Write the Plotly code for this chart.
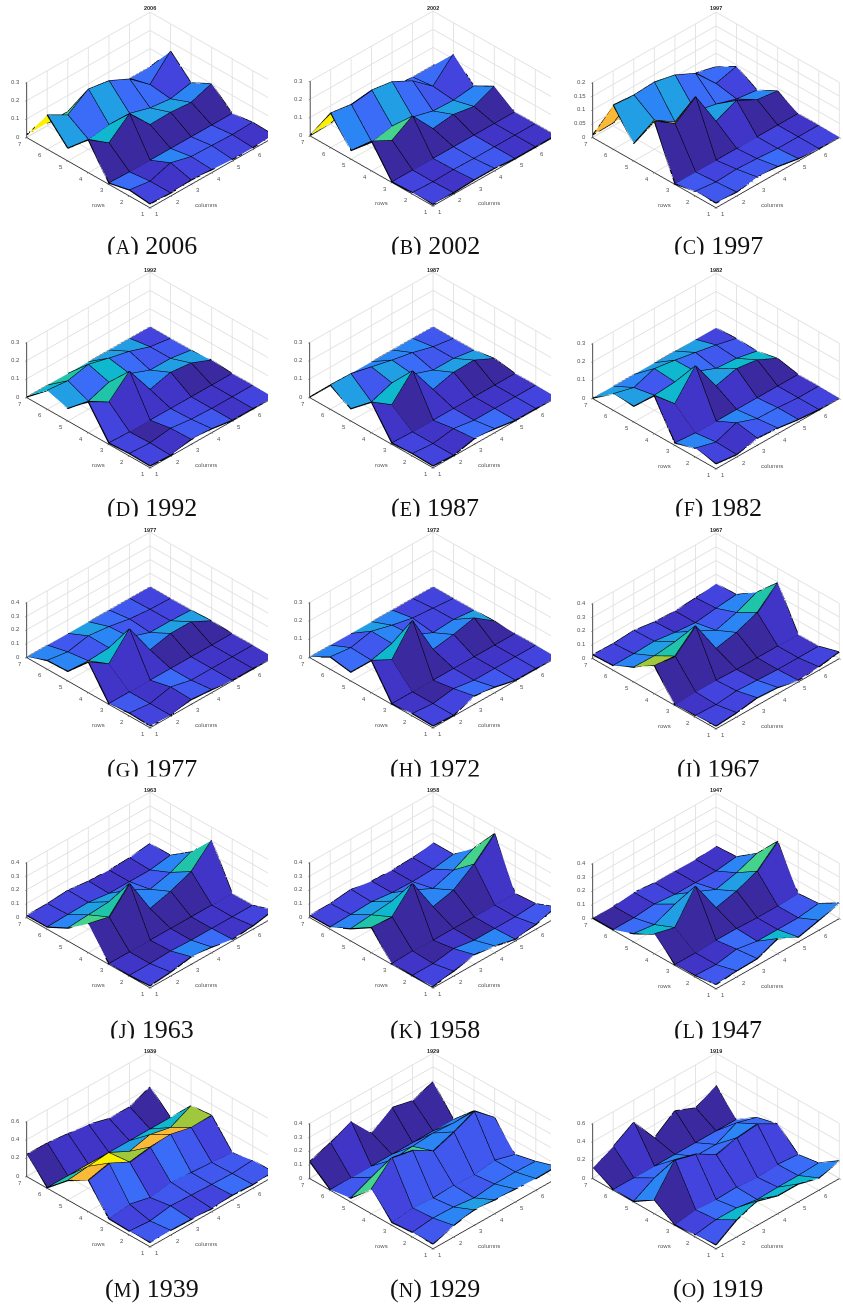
import plotly.graph_objects as go
import math

YEARS = [2006, 2002, 1997, 1992, 1987, 1982, 1977, 1972, 1967, 1963, 1958, 1947, 1939, 1929, 1919]
LETTERS = list("ABCDEFGHIJKLMNO")
GRID = [1, 2, 3, 4, 5, 6, 7]
GRID_LABELS = [1, 2, 3, 4, 5, 6]
ZMAX = [0.3, 0.3, 0.2, 0.3, 0.3, 0.3, 0.4, 0.3, 0.4, 0.4, 0.4, 0.4, 0.6, 0.4, 0.6]
ZT_01_3 = [0, 0.1, 0.2, 0.3]
ZT_01_4 = [0, 0.1, 0.2, 0.3, 0.4]
ZT_005 = [0, 0.05, 0.1, 0.15, 0.2]
ZT_02 = [0, 0.2, 0.4, 0.6]
ZTICKS = [ZT_01_3, ZT_01_3, ZT_005, ZT_01_3, ZT_01_3, ZT_01_3, ZT_01_4, ZT_01_3, ZT_01_4, ZT_01_4, ZT_01_4, ZT_01_4, ZT_02, ZT_01_4, ZT_02]
PALETTE = ["#3b2a9f", "#4135c8", "#4343dd", "#4058ee", "#3a6cf8", "#2c85f5", "#229fe4",
           "#0fb7cf", "#20c4a8", "#45d28c", "#a0c83c", "#fbb938", "#faf000"]

Z0 = [0, 0, 0, 0, 0, 0, 0]
Z_2006 = [[.018,.013,.02,.013,.005,.005,.012],[.03,.013,.05,.02,.016,.012,.016],[.004,0,0,0,0,0,0],
          [.176,.095,.19,.067,.07,.06,.10],[.067,.05,.067,.064,.03,.016,.04],[.185,.12,.198,.18,.125,.03,.15],[.013,.013,.01,.01,.01,0,0]]
Z_2002 = [[.005,.004,.01,.01,0,0,0],[.005,0,.003,0,0,0,0],Z0,
          [.16,.10,.17,.036,.05,.03,.078],[.045,.027,.05,.036,.005,0,.015],[.187,.17,.185,.167,.107,.013,.127],[0,.005,.005,.005,.005,0,0]]
Z_1997 = [[.015,.012,.024,.02,.006,0,0],[.015,.006,.01,.006,0,0,0],Z0,
          [.186,.134,.19,.057,.09,.05,.04],[.062,.104,.054,.05,.034,.01,0],[.16,.153,.158,.141,.104,.024,.044],[.008,.01,.01,.01,.01,.02,0]]
Z_1992 = [[.007,0,.023,.018,0,0,0],[.01,.004,.02,.005,0,0,0],[.004,0,0,0,0,0,0],
          [.165,.10,.204,.04,.07,.057,.01],[.066,.04,.08,.0625,.018,.018,0],[.10,.088,.114,.084,.057,.018,0],Z0]
Z_1987 = [[.007,0,.027,.018,0,0,0],[.01,0,.018,0,0,0,0],[.004,0,0,0,0,0,0],
          [.164,.085,.207,.04,.07,.073,.018],[.064,.036,.076,.06,.018,.018,0],[.13,.127,.10,.073,.05,.018,0],Z0]
Z_1982 = [[.024,.01,.036,.027,.01,0,0],[.045,.014,.056,.014,.01,0,0],[.01,0,0,0,0,0,0],
          [.204,.096,.24,.065,.096,.08,.024],[.083,.078,.087,.08,.033,.024,0],[.087,.056,.096,.078,.056,.033,.005],Z0]
Z_1977 = [[.01,0,.03,.017,0,0,0],[.017,0,.036,0,0,0,0],Z0,
          [.22,.12,.29,.05,.085,.085,.007],[.066,.056,.066,.06,.007,.007,0],[.06,.036,.068,.05,.02,.005,0],Z0]
Z_1972 = [[.007,0,.042,.027,0,0,0],[.01,0,.018,0,0,0,0],Z0,
          [.173,.113,.264,.04,.058,.085,.004],[.045,.045,.073,.055,.004,.012,0],[.064,.05,.076,.045,.02,.01,0],Z0]
Z_1967 = [[.015,.027,.05,.04,.007,.02,.044],[.007,0,.015,.007,0,0,0],[0,.007,.007,0,0,0,0],
          [.2,.184,.32,.068,.1,.16,.294],[.104,.1,.117,.11,.03,.075,.14],[.03,.03,.036,.015,0,.02,.036],[.024,.02,.03,.007,0,.012,.03]]
Z_1963 = [[.01,.024,.05,.036,.007,.02,.05],[0,0,.007,0,0,0,0],Z0,
          [.207,.17,.33,.06,.1,.16,.305],[.09,.1,.11,.11,.03,.068,.134],[.012,.017,.02,0,0,0,.024],[.012,.012,.024,.005,0,.005,.024]]
Z_1958 = [[.005,.03,.066,.044,.007,.03,.073],[0,0,.024,0,0,0,.012],[0,.007,0,0,0,0,0],
          [.18,.17,.33,.073,.11,.215,.354],[.085,.1,.115,.11,.036,.085,.163],[.012,.017,.024,.005,0,.007,.03],[.012,.012,.03,.005,0,.005,.03]]
Z_1947 = [[.027,.04,.044,.105,.03,.068,.11],[.007,0,.027,0,0,0,.02],[0,0,.007,.007,0,0,.007],
          [.14,.1,.317,.073,.11,.17,.305],[.056,.036,.1,.105,.036,.073,.13],[0,0,.015,0,0,0,.02],[0,0,.015,0,0,0,.012]]
Z_1939 = [[.04,.044,.036,.025,.044,.033,.044],[.036,.018,.055,.044,.033,.025,.044],[.044,.073,.018,.06,.036,.018,0],
          [.34,.396,.28,.316,.327,.273,.28],[.207,.233,.255,.14,.196,.145,.258],Z0,[.236,.233,.207,.18,.116,.116,.207]]
Z_1929 = [[.03,.08,.108,.096,.09,.08,.084],[.03,.048,.043,.024,.04,.043,.036],[.017,.036,.024,.03,.024,.043,0],
          [.175,.32,.288,.197,.25,.317,.185],[.024,.09,.13,.144,.156,.144,.15],Z0,[.12,.173,.245,.072,.173,.137,.19]]
Z_1919 = [[.036,.18,.26,.19,.19,.127,.19],[.018,.055,.055,.018,.025,.025,.036],[0,.036,.018,.025,.007,.018,0],
          [.145,.455,.39,.255,.31,.335,.207],[0,.127,.2,.11,.11,.218,.15],Z0,[.11,.218,.356,.055,.225,.127,.247]]

C_2006 = [[2,1,2,3,2,1],[4,1,5,3,3,2],[0,0,0,0,0,0],[12,7,3,6,6,5],[6,4,6,4,4,2],[12,9,3,3,3,4]]
C_2002 = [[2,1,3,3,1,1],[2,1,3,3,1,1],[0,0,0,0,0,0],[9,9,3,5,6,5],[5,4,6,4,3,2],[12,4,4,4,4,4]]
C_1997 = [[3,3,3,4,2,2],[3,2,2,2,2,1],[0,0,0,1,0,0],[12,11,4,6,0,5],[6,5,6,4,4,2],[11,11,4,4,4,4]]
C_1992 = [[2,1,3,3,1,2],[2,0,3,2,1,1],[2,1,1,1,0,0],[7,8,3,5,6,6],[6,4,7,4,3,3],[7,8,7,6,6,2]]
C_1987 = [[2,1,4,4,2,2],[2,1,3,1,1,1],[1,0,1,1,0,0],[7,7,3,5,6,6],[6,3,6,4,3,3],[7,5,5,5,5,3]]
C_1982 = [[2,1,3,4,2,2],[5,2,5,4,2,1],[1,1,0,1,0,0],[11,7,3,6,7,7],[6,3,7,4,3,3],[6,5,6,6,6,2]]
C_1977 = [[2,1,3,2,1,1],[3,1,4,2,1,1],[1,1,1,0,0,0],[11,7,3,5,6,6],[5,3,5,3,2,2],[5,3,6,4,3,2]]
C_1972 = [[2,2,4,3,2,2],[1,0,2,1,1,1],[1,0,0,1,0,0],[10,7,3,5,5,6],[4,3,5,3,2,2],[5,3,6,5,2,2]]
C_1967 = [[2,2,4,3,1,2],[1,2,2,0,1,1],[0,0,0,0,0,1],[10,8,3,5,5,8],[5,6,6,5,3,5],[2,2,2,1,1,2]]
C_1963 = [[2,2,5,4,1,2],[1,0,1,0,1,1],[0,0,0,0,0,1],[9,8,3,5,5,8],[5,6,6,4,3,5],[2,2,2,1,1,2]]
C_1958 = [[2,2,5,5,2,3],[1,0,1,0,1,1],[0,0,0,0,0,1],[8,7,3,5,5,9],[5,6,6,4,3,5],[2,2,2,1,1,2]]
C_1947 = [[3,4,4,7,4,5],[1,1,4,1,1,3],[0,0,0,0,0,1],[7,6,3,5,6,9],[4,4,6,4,3,5],[0,1,2,1,1,1]]
C_1939 = [[3,4,2,2,4,3],[2,2,3,3,3,3],[3,4,2,4,3,2],[11,12,10,11,11,10],[8,12,10,6,7,7],[0,1,1,1,1,0]]
C_1929 = [[3,5,6,5,5,5],[2,4,4,3,4,4],[2,3,3,3,3,3],[9,4,9,5,5,5],[3,4,5,4,5,5],[0,1,0,0,0,0]]
C_1919 = [[3,7,7,7,7,5],[2,4,4,3,3,4],[0,2,2,2,2,2],[5,6,9,4,5,4],[3,4,5,4,4,4],[0,1,0,0,0,0]]

Z_ALL = [Z_2006,Z_2002,Z_1997,Z_1992,Z_1987,Z_1982,Z_1977,Z_1972,Z_1967,Z_1963,Z_1958,Z_1947,Z_1939,Z_1929,Z_1919]
C_ALL = [C_2006,C_2002,C_1997,C_1992,C_1987,C_1982,C_1977,C_1972,C_1967,C_1963,C_1958,C_1947,C_1939,C_1929,C_1919]

W, H = 843, 1305
COL_CX = [150, 433, 716]
COL_CLIP = [268, 551, 843]
FRONT_Y = [[207,205,207],[467,467,468],[727,727,728],[987,987,988],[1246,1248,1248]]
TITLE_Y = [8, 270, 530, 790, 1051]
CAP_Y = [246, 507, 768, 1029, 1288]
MASK_Y = [259, 521, 781, 1043]
DOM_HALF = 140
DOM_H = 218
DIST = 2.0
EL = math.asin(70 / 123)
ZOOM = 1.6
KAPPA = ZOOM / 174  # normalized scene units per pixel
AZ = 67 / 174
TICK_FONT = dict(size=6, color="#555555", family="Liberation Sans")

fig = go.Figure()
ann = []
n = 7
for idx, (year, Z, C) in enumerate(zip(YEARS, Z_ALL, C_ALL)):
    row, col = idx // 3, idx % 3
    sid = "scene" if idx == 0 else f"scene{idx+1}"
    X, Y, ZZ = [], [], []
    for r in range(n):
        for c in range(n):
            X.append(GRID[c]); Y.append(GRID[r]); ZZ.append(Z[r][c])
    I, J, K, FC = [], [], [], []
    for r in range(n - 1):
        for c in range(n - 1):
            a, b, d, e = r*n+c, (r+1)*n+c, (r+1)*n+c+1, r*n+c+1
            I += [a, a]; J += [b, d]; K += [d, e]
            FC += [PALETTE[C[r][c]]] * 2
    fig.add_trace(go.Mesh3d(x=X, y=Y, z=ZZ, i=I, j=J, k=K, facecolor=FC, flatshading=True,
                            lighting=dict(ambient=1, diffuse=0, specular=0, roughness=1, fresnel=0),
                            hoverinfo="skip", showscale=False, scene=sid))
    lx, ly, lz = [], [], []
    for r in range(n):
        lx += GRID + [None]; ly += [GRID[r]]*n + [None]; lz += list(Z[r]) + [None]
    for c in range(n):
        lx += [GRID[c]]*n + [None]; ly += GRID + [None]; lz += [Z[r][c] for r in range(n)] + [None]
    fig.add_trace(go.Scatter3d(x=lx, y=ly, z=lz, mode="lines", line=dict(color="#000000", width=2.4),
                               hoverinfo="skip", showlegend=False, scene=sid))
    cx, fy = COL_CX[col], FRONT_Y[row][col]
    cy = fy - 97.5
    x0 = cx - DOM_HALF; x1 = COL_CLIP[col]
    y0 = cy - DOM_H/2; y1 = cy + DOM_H/2
    sx = cx - (x0 + x1)/2
    ce, se = math.cos(EL), math.sin(EL)
    u = (1/math.sqrt(2), -1/math.sqrt(2), 0)
    ctr = tuple(-sx*KAPPA*v for v in u)
    eye = (ctr[0]-DIST*ce/math.sqrt(2), ctr[1]-DIST*ce/math.sqrt(2), ctr[2]+DIST*se)
    axis = dict(showbackground=False, showgrid=True, gridcolor="#e0e0e0", gridwidth=2, zeroline=False,
                showline=True, linecolor="#333333", linewidth=2, ticks="outside", ticklen=2, tickcolor="#404040",
                showticklabels=False, title=dict(text=""), showspikes=False)
    zlab = []
    for v in ZTICKS[idx]:
        zlab.append(dict(x=1.001, y=6.999, z=v*0.999, text=f"{v:g}", xanchor="right", yanchor="middle", xshift=-5, yshift=0,
                         showarrow=False, font=TICK_FONT))
    for v in GRID:
        zlab.append(dict(x=1.001, y=min(v, 6.999), z=0, text=str(v), xanchor="center", yanchor="middle", xshift=-7, yshift=-7,
                         showarrow=False, font=TICK_FONT))
    for v in GRID_LABELS:
        zlab.append(dict(x=v, y=1.001, z=0, text=str(v), xanchor="center", yanchor="middle", xshift=7, yshift=-7,
                         showarrow=False, font=TICK_FONT))
    fig.update_layout({sid: dict(
        domain=dict(x=[x0/W, x1/W], y=[max(0, 1-y1/H), min(1, 1-y0/H)]),
        aspectmode="manual", aspectratio=dict(x=ZOOM, y=ZOOM, z=AZ*ZOOM),
        camera=dict(projection=dict(type="orthographic"), up=dict(x=0, y=0, z=1),
                    center=dict(x=ctr[0], y=ctr[1], z=ctr[2]), eye=dict(x=eye[0], y=eye[1], z=eye[2])),
        xaxis=dict(axis, range=[1, 7], tickvals=GRID),
        yaxis=dict(axis, range=[1, 7], tickvals=GRID),
        zaxis=dict(axis, range=[-0.01*ZMAX[idx], ZMAX[idx]], tickvals=ZTICKS[idx]),
        annotations=zlab,
    )})
    ann.append(dict(x=cx/W, y=1-TITLE_Y[row]/H, text=f"<b>{year}</b>", font=dict(size=5.5, family="Liberation Sans", color="#222222")))
    ann.append(dict(x=(cx-52)/W, y=1-(fy-2)/H, text="rows", font=TICK_FONT))
    ann.append(dict(x=(cx+56)/W, y=1-(fy-2)/H, text="columns", font=TICK_FONT))
    cap = f'(<span style="font-size:20px">{LETTERS[idx]}</span>) {year}'
    ann.append(dict(x=(cx+2)/W, y=1-CAP_Y[row]/H, text=cap, font=dict(size=26, family="Liberation Serif", color="#111111")))
    if row < 4:
        ann.append(dict(x=cx/W, y=1-MASK_Y[row]/H, text=" ", width=130, height=6, bgcolor="#ffffff", font=dict(size=4)))
for a in ann:
    a.update(xref="paper", yref="paper", showarrow=False, xanchor="center", yanchor="middle")
fig.update_layout(width=W, height=H, margin=dict(l=0, r=0, t=0, b=0), autosize=False, showlegend=False,
                  paper_bgcolor="white", annotations=ann)
fig.write_html("out.html", config=dict(displayModeBar=False), post_script="document.body.style.margin='0';")
